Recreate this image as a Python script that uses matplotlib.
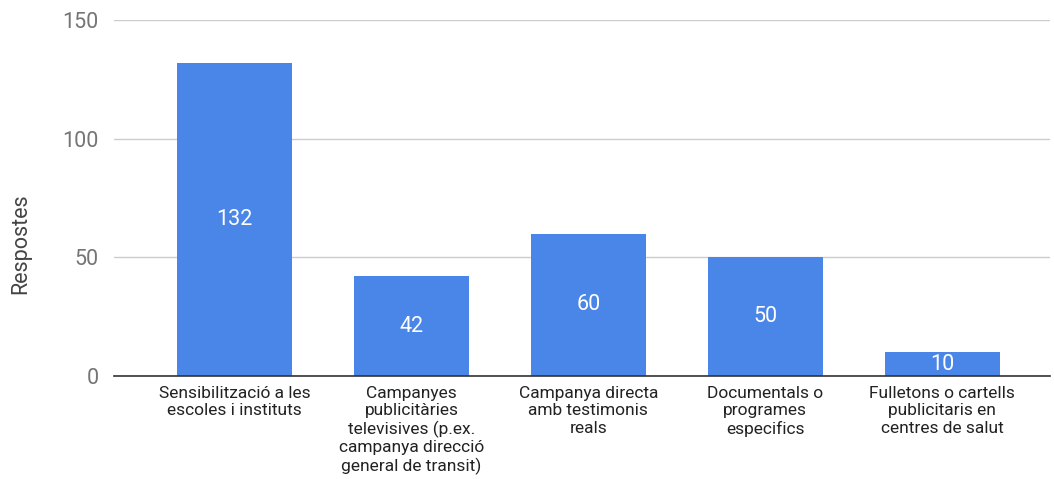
import matplotlib
matplotlib.use("Agg")
import matplotlib.pyplot as plt

categories = [
    "Sensibilització a les\nescoles i instituts",
    "Campanyes\npublicitàries\ntelevisives (p.ex.\ncampanya direcció\ngeneral de transit)",
    "Campanya directa\namb testimonis\nreals",
    "Documentals o\nprogrames\nespecifics",
    "Fulletons o cartells\npublicitaris en\ncentres de salut",
]
values = [132, 42, 60, 50, 10]
yticks = [0, 50, 100, 150]

plt.rcParams['font.family'] = ['Roboto', 'DejaVu Sans']

fig = plt.figure(figsize=(10.54, 4.79), dpi=100)
ax = fig.add_axes([114/1054, 1 - 376/479, (1050-114)/1054, (376-20)/479])

x = list(range(len(values)))
bars = ax.bar(x, values, width=0.65, color="#4a86e8", zorder=3)
for xi, v in zip(x, values):
    ax.text(xi, v/2, str(v), ha='center', va='center', color='white', fontsize=15.5, zorder=4)

ax.set_xlim(-0.681, 4.61)
ax.set_ylim(0, 150)
ax.set_yticks(yticks)
ax.set_yticklabels([str(t) for t in yticks], color='#757575', fontsize=15.5)
ax.set_xticks(x)
ax.set_xticklabels(categories, fontsize=12.5, color='#222222', linespacing=1.2)
ax.tick_params(axis='both', length=0)
ax.tick_params(axis='y', pad=11)
ax.tick_params(axis='x', pad=7)
ax.grid(axis='y', color='#cccccc', linewidth=1, zorder=0)
for s in ['top', 'right', 'left']:
    ax.spines[s].set_visible(False)
ax.spines['bottom'].set_color('#333333')
ax.spines['bottom'].set_linewidth(1.2)
ax.spines['bottom'].set_zorder(5)
fig.text(21/1054, 1 - 244/479, "Respostes", rotation=90, ha='center', va='center',
         fontsize=15.5, color='#444444')

fig.savefig("out.png", dpi=100)
